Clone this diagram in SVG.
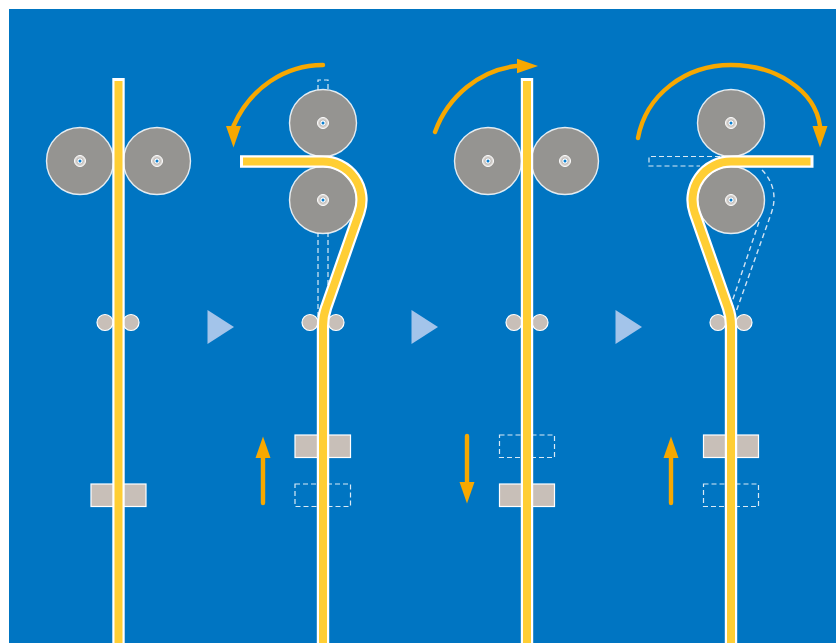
<svg xmlns="http://www.w3.org/2000/svg" width="836" height="643" viewBox="0 0 836 643">
<style>
.roller{fill:#959491;stroke:#fff;stroke-width:1.4;stroke-opacity:.85}
.nip{fill:#c8bfb8;stroke:#fff;stroke-width:1.2}
.block{fill:#c8bfb8;stroke:#fff;stroke-width:1.2}
.ghost{fill:none;stroke:#fff;stroke-width:1.2;stroke-dasharray:5 3;stroke-opacity:.85}
.ghost2{fill:none;stroke:#cfe2f3;stroke-width:1.4;stroke-dasharray:5 3.5}
.s-o{fill:none;stroke:#fff;stroke-width:12.400;stroke-linejoin:miter}
.s-i{fill:none;stroke:#ffce34;stroke-width:8}
.arrow{fill:none;stroke:#f7a800;stroke-width:4.400;stroke-linecap:round}
.step{fill:#a3c4ea}
</style>
<defs>
<g id="hub"><circle r="5.500" fill="#d9d5d1" stroke="#fff" stroke-width="1"/><circle r="3.200" fill="#fff" stroke="#a9a5a2" stroke-width=".8"/><circle r="1.500" fill="#0a7fd0"/></g>
<marker id="head" markerUnits="userSpaceOnUse" markerWidth="22" markerHeight="16" refX="0" refY="8" orient="auto"><path d="M0,0.500L21.500,8L0,15.500Z" fill="#f7a800"/></marker>
<marker id="headDown" markerUnits="userSpaceOnUse" markerWidth="22" markerHeight="16" refX="0" refY="8" orient="90"><path d="M0,0.500L21.500,8L0,15.500Z" fill="#f7a800"/></marker>
<marker id="headRight" markerUnits="userSpaceOnUse" markerWidth="22" markerHeight="16" refX="0" refY="8" orient="0"><path d="M0,0.500L21.500,8L0,15.500Z" fill="#f7a800"/></marker>
</defs>
<rect width="836" height="643" fill="#fff"/>
<rect x="9" y="9" width="827" height="634" fill="#0075c2"/>

<g id="stage1">
<circle class="nip" cx="105" cy="322.500" r="8"/><circle class="nip" cx="131" cy="322.500" r="8"/>
<rect class="block" x="91" y="484" width="55" height="22.500"/>
<circle class="roller" cx="80" cy="161" r="33.500"/><use href="#hub" x="80" y="161"/>
<circle class="roller" cx="157" cy="161" r="33.500"/><use href="#hub" x="157" y="161"/>
<path class="s-o" d="M118.500,78V643"/><path class="s-i" d="M118.500,81V643"/>
</g>

<g id="stage2">
<path class="ghost" d="M318,90V80H328V90"/>
<path class="ghost" d="M318,232V318M328,232V300"/>
<circle class="nip" cx="310" cy="322.500" r="8"/><circle class="nip" cx="336" cy="322.500" r="8"/>
<rect class="block" x="295" y="435" width="55.500" height="22.500"/>
<rect class="ghost" x="295" y="484" width="55.500" height="22.500"/>
<circle class="roller" cx="323" cy="123" r="33.500"/><use href="#hub" x="323" y="123"/>
<circle class="roller" cx="323" cy="200" r="33.500"/><use href="#hub" x="323" y="200"/>
<path class="s-o" d="M240,161.500H323A38.500 38.500 0 0 1 359.300,212.700L326,308Q323,316 323,326V643"/>
<path class="s-i" d="M243,161.500H323A38.500 38.500 0 0 1 359.300,212.700L326,308Q323,316 323,326V643"/>
</g>

<g id="stage3">
<circle class="nip" cx="514" cy="322.500" r="8"/><circle class="nip" cx="540" cy="322.500" r="8"/>
<rect class="ghost" x="499.500" y="435" width="55" height="22.500"/>
<rect class="block" x="499.500" y="484" width="55" height="22.500"/>
<circle class="roller" cx="488" cy="161" r="33.500"/><use href="#hub" x="488" y="161"/>
<circle class="roller" cx="565" cy="161" r="33.500"/><use href="#hub" x="565" y="161"/>
<path class="s-o" d="M527,78V643"/><path class="s-i" d="M527,81V643"/>
</g>

<g id="stage4">
<path class="ghost" d="M720,156.500H649V166H700"/>
<path class="ghost2" d="M762,170C769,177 774,187 774,198C774,204 773,208 771,214L736,312"/>
<path class="ghost2" d="M759,222L731,305"/>
<circle class="nip" cx="718" cy="322.500" r="8"/><circle class="nip" cx="744" cy="322.500" r="8"/>
<rect class="block" x="703.500" y="435" width="55" height="22.500"/>
<rect class="ghost" x="703.500" y="484" width="55" height="22.500"/>
<circle class="roller" cx="731" cy="123" r="33.500"/><use href="#hub" x="731" y="123"/>
<circle class="roller" cx="731" cy="200" r="33.500"/><use href="#hub" x="731" y="200"/>
<path class="s-o" d="M813.500,161.500H731A38.500 38.500 0 0 0 694.700,212.700L728,308Q731,316 731,326V643"/>
<path class="s-i" d="M810.500,161.500H731A38.500 38.500 0 0 0 694.700,212.700L728,308Q731,316 731,326V643"/>
</g>

<g id="step-markers">
<path class="step" d="M207.500,310L234,327L207.500,344Z"/>
<path class="step" d="M411.500,310L438,327L411.500,344Z"/>
<path class="step" d="M615.500,310L642,327L615.500,344Z"/>
</g>

<g id="connectors">
<path class="arrow" marker-end="url(#headDown)" d="M323,65C285,65 250,88 233.500,126"/>
<path class="arrow" marker-end="url(#headRight)" d="M435,132C448,96 480,70 516.500,66"/>
<path class="arrow" marker-end="url(#headDown)" d="M638,138C646,95 685,65 731,65C775,65 815,90 820,126"/>
<path class="arrow" marker-end="url(#head)" d="M263,503V458"/>
<path class="arrow" marker-end="url(#head)" d="M467,436V482"/>
<path class="arrow" marker-end="url(#head)" d="M671,503V458"/>
</g>
</svg>
